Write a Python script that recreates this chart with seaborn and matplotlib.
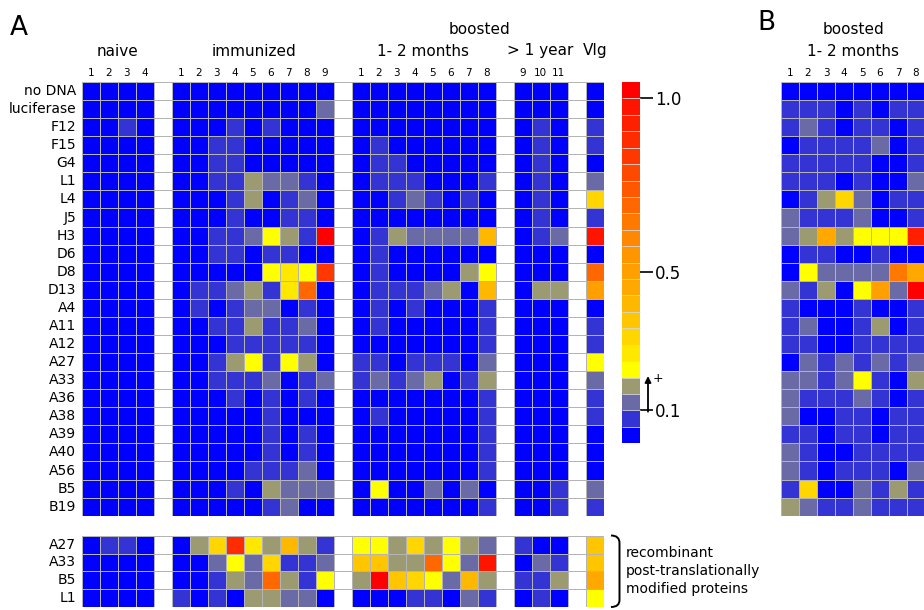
import numpy as np
import pandas as pd
import matplotlib
matplotlib.use("Agg")
import matplotlib.pyplot as plt
import seaborn as sns
from matplotlib.colors import ListedColormap, Normalize
from matplotlib.cm import ScalarMappable
from matplotlib.path import Path
from matplotlib.patches import PathPatch

# ---------------- data ----------------
antigens = ["no DNA", "luciferase", "F12", "F15", "G4", "L1", "L4", "J5", "H3", "D6",
            "D8", "D13", "A4", "A11", "A12", "A27", "A33", "A36", "A38", "A39",
            "A40", "A56", "B5", "B19"]
proteins = ["A27", "A33", "B5", "L1"]

naive = [
    [0, 0, 0, 0], [0, 0, 0, 0], [0, 0, 0.08, 0], [0, 0, 0, 0], [0, 0, 0, 0],
    [0, 0, 0, 0], [0, 0, 0, 0], [0, 0, 0, 0], [0, 0, 0, 0], [0, 0, 0, 0],
    [0, 0, 0, 0], [0, 0, 0, 0], [0, 0, 0, 0], [0, 0, 0, 0], [0, 0, 0, 0],
    [0, 0, 0, 0], [0, 0, 0, 0], [0, 0, 0, 0], [0, 0, 0, 0], [0, 0, 0, 0],
    [0, 0, 0, 0], [0, 0, 0, 0], [0, 0, 0, 0], [0, 0, 0, 0],
]
immunized = [
    [0, 0, 0, 0, 0, 0, 0, 0, 0],
    [0, 0, 0, 0, 0, 0, 0, 0, 0.12],
    [0, 0, 0, 0.08, 0, 0.08, 0, 0, 0],
    [0, 0, 0.08, 0.08, 0, 0, 0, 0, 0],
    [0, 0, 0.08, 0.08, 0, 0, 0, 0, 0],
    [0, 0, 0.08, 0.08, 0.17, 0.12, 0.12, 0.08, 0],
    [0, 0, 0, 0.08, 0.17, 0, 0.08, 0.12, 0],
    [0, 0, 0, 0.08, 0, 0, 0.08, 0.08, 0],
    [0, 0, 0.08, 0.08, 0.12, 0.22, 0.17, 0.08, 1.02],
    [0, 0, 0.08, 0.08, 0, 0.08, 0.08, 0, 0],
    [0, 0, 0, 0, 0, 0.22, 0.26, 0.22, 0.83],
    [0, 0.08, 0.08, 0.12, 0.17, 0.08, 0.26, 0.70, 0],
    [0, 0.08, 0, 0.08, 0.12, 0.12, 0, 0.08, 0],
    [0, 0, 0.08, 0.08, 0.17, 0.08, 0.08, 0.12, 0],
    [0, 0, 0, 0.08, 0.08, 0.08, 0.08, 0.08, 0],
    [0, 0, 0.08, 0.17, 0.22, 0.08, 0.22, 0.17, 0],
    [0, 0, 0.08, 0.08, 0.08, 0.12, 0, 0.08, 0.12],
    [0, 0, 0, 0.08, 0, 0.08, 0, 0.08, 0],
    [0, 0, 0, 0, 0, 0.08, 0, 0, 0],
    [0, 0, 0, 0, 0, 0.08, 0, 0.08, 0],
    [0, 0, 0, 0, 0, 0.08, 0, 0.08, 0],
    [0, 0, 0, 0, 0.08, 0.08, 0.08, 0.12, 0],
    [0, 0, 0, 0.08, 0, 0.17, 0.12, 0.12, 0.12],
    [0, 0, 0, 0, 0, 0.08, 0.12, 0, 0],
]
boosted_months = [
    [0, 0, 0, 0, 0, 0, 0, 0],
    [0, 0, 0, 0, 0, 0, 0, 0],
    [0, 0, 0, 0, 0, 0, 0, 0],
    [0, 0.08, 0, 0, 0, 0, 0, 0],
    [0, 0.08, 0.08, 0, 0, 0, 0, 0],
    [0, 0.08, 0.08, 0.08, 0, 0, 0, 0.08],
    [0, 0, 0.08, 0.12, 0.08, 0, 0.08, 0],
    [0, 0, 0, 0, 0, 0, 0, 0],
    [0, 0.08, 0.17, 0.12, 0.12, 0.12, 0.12, 0.40],
    [0, 0.08, 0, 0, 0, 0, 0, 0],
    [0, 0.08, 0, 0, 0, 0, 0.17, 0.22],
    [0, 0.08, 0.08, 0.08, 0.12, 0.17, 0, 0.40],
    [0, 0.08, 0, 0.08, 0, 0, 0, 0.08],
    [0, 0.08, 0, 0, 0, 0, 0, 0.08],
    [0, 0, 0, 0, 0, 0, 0, 0.08],
    [0.08, 0.08, 0, 0.08, 0.08, 0.08, 0, 0.12],
    [0.08, 0.12, 0.08, 0.12, 0.17, 0, 0.08, 0.17],
    [0, 0, 0, 0, 0, 0, 0, 0.08],
    [0, 0.08, 0, 0, 0, 0, 0, 0.08],
    [0, 0, 0, 0, 0, 0, 0, 0.08],
    [0, 0, 0, 0, 0, 0, 0, 0.08],
    [0, 0, 0, 0, 0, 0, 0, 0.08],
    [0, 0.22, 0, 0, 0.12, 0, 0.12, 0],
    [0, 0, 0, 0, 0, 0, 0, 0.08],
]
boosted_year = [
    [0, 0, 0], [0, 0, 0], [0, 0.08, 0], [0, 0.08, 0], [0, 0.08, 0],
    [0, 0.08, 0], [0, 0.08, 0], [0, 0.08, 0], [0, 0.08, 0.12], [0, 0, 0],
    [0, 0, 0], [0, 0.17, 0.17], [0, 0, 0], [0, 0, 0], [0, 0, 0],
    [0, 0, 0], [0, 0, 0], [0, 0, 0], [0, 0, 0], [0, 0, 0],
    [0, 0, 0], [0, 0, 0], [0, 0, 0.08], [0, 0, 0.08],
]
vig = [0, 0, 0.08, 0.08, 0, 0.12, 0.31, 0.08, 0.97, 0, 0.70, 0.50,
       0, 0.08, 0.08, 0.22, 0.12, 0.08, 0.08, 0, 0, 0, 0.12, 0.08]

prot_naive = [[0, 0.08, 0.08, 0], [0, 0, 0, 0], [0, 0, 0, 0], [0, 0, 0, 0]]
prot_immunized = [
    [0, 0.17, 0.31, 0.88, 0.26, 0.17, 0.40, 0.17, 0.08],
    [0, 0, 0.12, 0.22, 0.12, 0.31, 0.08, 0.08, 0.12],
    [0, 0, 0.08, 0.17, 0.12, 0.70, 0.17, 0.08, 0.22],
    [0.08, 0, 0.08, 0, 0.17, 0.17, 0.12, 0.12, 0],
]
prot_months = [
    [0.22, 0.22, 0.17, 0.31, 0.17, 0.22, 0.17, 0.12],
    [0.36, 0.36, 0.17, 0.17, 0.70, 0.22, 0.12, 0.97],
    [0.17, 1.02, 0.36, 0.31, 0.22, 0.12, 0.40, 0.17],
    [0, 0, 0, 0.08, 0.08, 0, 0.12, 0.08],
]
prot_year = [[0.08, 0, 0], [0, 0.12, 0.08], [0.08, 0.08, 0.17], [0, 0.08, 0]]
prot_vig = [0.36, 0.36, 0.45, 0.22]

panel_b = [
    [0, 0, 0, 0, 0, 0, 0, 0],
    [0.08, 0.08, 0.08, 0, 0.08, 0, 0.08, 0.08],
    [0.08, 0.12, 0.08, 0, 0.08, 0.08, 0, 0.08],
    [0, 0.08, 0.08, 0.08, 0.08, 0.12, 0, 0.08],
    [0.08, 0.08, 0.08, 0.08, 0.08, 0, 0, 0.08],
    [0.08, 0.08, 0.08, 0, 0.08, 0, 0, 0.12],
    [0, 0.08, 0.17, 0.31, 0.12, 0, 0.08, 0.08],
    [0.12, 0.08, 0.08, 0.08, 0.12, 0, 0, 0.08],
    [0.12, 0.17, 0.45, 0.17, 0.22, 0.22, 0.22, 0.93],
    [0, 0.08, 0.08, 0, 0, 0.08, 0, 0],
    [0, 0.22, 0.12, 0.12, 0.12, 0.12, 0.64, 0.45],
    [0.12, 0.08, 0.17, 0, 0.22, 0.50, 0.12, 1.02],
    [0.08, 0, 0, 0, 0.08, 0, 0, 0.08],
    [0.08, 0.12, 0, 0, 0.08, 0.17, 0, 0.08],
    [0.08, 0.08, 0, 0, 0.08, 0.08, 0.08, 0.08],
    [0, 0.12, 0.08, 0.12, 0.08, 0.12, 0.08, 0.12],
    [0.12, 0.12, 0.08, 0.12, 0.22, 0.08, 0, 0.17],
    [0.12, 0.08, 0.08, 0.08, 0.12, 0.08, 0, 0.08],
    [0.12, 0, 0, 0.08, 0.08, 0, 0.08, 0.08],
    [0.08, 0.08, 0, 0.08, 0.08, 0, 0.08, 0.08],
    [0.12, 0.08, 0, 0, 0.08, 0.08, 0.08, 0.08],
    [0.12, 0.08, 0, 0.08, 0.08, 0.08, 0, 0.12],
    [0.08, 0.31, 0, 0, 0.12, 0.08, 0.17, 0.08],
    [0.17, 0.12, 0.08, 0.08, 0.12, 0.08, 0.08, 0.08],
]

col_labels_naive = ["1", "2", "3", "4"]
col_labels_imm = [str(i) for i in range(1, 10)]
col_labels_months = [str(i) for i in range(1, 9)]
col_labels_year = ["9", "10", "11"]
cbar_ticks = [0.1, 0.5, 1.0]

# ---------------- colour scale (22 equal steps, 0.1 .. 1.0 over 19 steps) ----------------
palette = ["#0000FF", "#3434D4", "#6A6AA6", "#9C9A70", "#FFFF00", "#FFE800",
           "#FFD600", "#FFC600", "#FFB800", "#FFA800", "#FFA000", "#FF9600",
           "#FF8800", "#FF7800", "#FF6800", "#FF5800", "#FF4800", "#FF3800",
           "#FF2C00", "#FF2000", "#FF1400", "#FF0000"]
cmap = ListedColormap(palette)
step = 0.9 / 19
vmin = 0.1 - 2 * step
vmax = 0.1 + 20 * step

# ---------------- assemble matrices ----------------
def assemble(parts):
    blocks = []
    for i, p in enumerate(parts):
        a = np.asarray(p, dtype=float)
        if a.ndim == 1:
            a = a[:, None]
        if i > 0:
            blocks.append(np.full((a.shape[0], 1), np.nan))
        blocks.append(a)
    return np.hstack(blocks)

main = assemble([naive, immunized, boosted_months, boosted_year, vig])
prot = assemble([prot_naive, prot_immunized, prot_months, prot_year, prot_vig])
xlabels = (col_labels_naive + [""] + col_labels_imm + [""] + col_labels_months + [""]
           + col_labels_year + [""] + [""])

df_main = pd.DataFrame(main, index=antigens)
df_prot = pd.DataFrame(prot, index=proteins)
df_b = pd.DataFrame(np.asarray(panel_b, dtype=float), index=antigens)

# ---------------- figure ----------------
W, H = 924, 610
fig = plt.figure(figsize=(W / 100, H / 100), dpi=100)
fig.patch.set_facecolor("white")


def box(x0, y0, x1, y1):
    return [x0 / W, 1 - y1 / H, (x1 - x0) / W, (y1 - y0) / H]


grid_kw = dict(cmap=cmap, vmin=vmin, vmax=vmax, cbar=False,
               linewidths=0.45, linecolor="#b4b4b4")

x0 = 81.7
cw = 18.0
ncol = main.shape[1]

ax1 = fig.add_axes(box(x0, 82, x0 + ncol * cw, 515.7))
ax1.hlines(np.arange(1, 24), 0, ncol, colors="#f0f0f0", lw=0.6, zorder=0.5)
sns.heatmap(df_main, ax=ax1, xticklabels=xlabels, yticklabels=antigens, **grid_kw)

ax2 = fig.add_axes(box(x0, 535.7, x0 + ncol * cw, 607))
ax2.hlines(np.arange(1, 4), 0, ncol, colors="#f0f0f0", lw=0.6, zorder=0.5)
sns.heatmap(df_prot, ax=ax2, xticklabels=False, yticklabels=proteins, **grid_kw)

ax3 = fig.add_axes(box(781, 82, 781 + 8 * cw, 515.7))
sns.heatmap(df_b, ax=ax3, xticklabels=col_labels_months, yticklabels=False, **grid_kw)

for ax in (ax1, ax2):
    ax.tick_params(axis="y", length=0, pad=4, labelsize=10, rotation=0)
    for t in ax.get_yticklabels():
        t.set_rotation(0)
for ax in (ax1, ax3):
    ax.xaxis.tick_top()
    ax.tick_params(axis="x", length=0, pad=3, labelsize=7.5, rotation=0,
                   top=False, bottom=False, labeltop=True, labelbottom=False)
    for t in ax.get_xticklabels():
        t.set_rotation(0)
ax3.tick_params(axis="y", length=0)
for ax in (ax1, ax2, ax3):
    ax.set_xlabel("")
    ax.set_ylabel("")

# colour bar
cax = fig.add_axes(box(622, 82, 640, 443.3))
sm = ScalarMappable(norm=Normalize(vmin=vmin, vmax=vmax), cmap=cmap)
cb = fig.colorbar(sm, cax=cax, drawedges=True)
cb.outline.set_visible(False)
cb.dividers.set_color("#d6d6d6")
cb.dividers.set_linewidth(0.6)
cb.set_ticks(cbar_ticks)
cb.set_ticklabels(["0.1", "0.5", "1.0"])
cax.tick_params(length=9, width=1.2, labelsize=12, pad=2)

# ---------------- annotations (overlay in pixel coordinates) ----------------
ov = fig.add_axes([0, 0, 1, 1], facecolor="none")
ov.set_xlim(0, W)
ov.set_ylim(H, 0)
ov.axis("off")

ov.text(10, 28, "A", fontsize=19, ha="left", va="center")
ov.text(757, 23, "B", fontsize=19, ha="left", va="center")

hdr = dict(fontsize=11, ha="center", va="center")
ov.text(117, 51, "naive", **hdr)
ov.text(254, 51, "immunized", **hdr)
ov.text(479, 29, "boosted", **hdr)
ov.text(423, 51, "1- 2 months", **hdr)
ov.text(540, 51, "> 1 year", **hdr)
ov.text(595, 51, "VIg", **hdr)
ov.text(853, 29, "boosted", **hdr)
ov.text(853, 51, "1- 2 months", **hdr)

# arrow and "+" next to the 0.1 tick
ov.annotate("", xy=(648, 376), xytext=(648, 411.7),
            arrowprops=dict(arrowstyle="-|>", color="black", lw=1.3,
                            mutation_scale=9, shrinkA=0, shrinkB=0))
ov.text(653, 379, "+", fontsize=9, ha="left", va="center")

# bracket for the recombinant proteins
verts = [(611, 535.5), (619.5, 535.5), (619.5, 543), (619.5, 600), (619.5, 607), (611, 607)]
codes = [Path.MOVETO, Path.CURVE3, Path.CURVE3, Path.LINETO, Path.CURVE3, Path.CURVE3]
ov.add_patch(PathPatch(Path(verts, codes), facecolor="none", edgecolor="black", lw=1.4))
for i, line in enumerate(["recombinant", "post-translationally", "modified proteins"]):
    ov.text(626, 553 + i * 18, line, fontsize=10, ha="left", va="center")

fig.savefig("out.png", dpi=100)
